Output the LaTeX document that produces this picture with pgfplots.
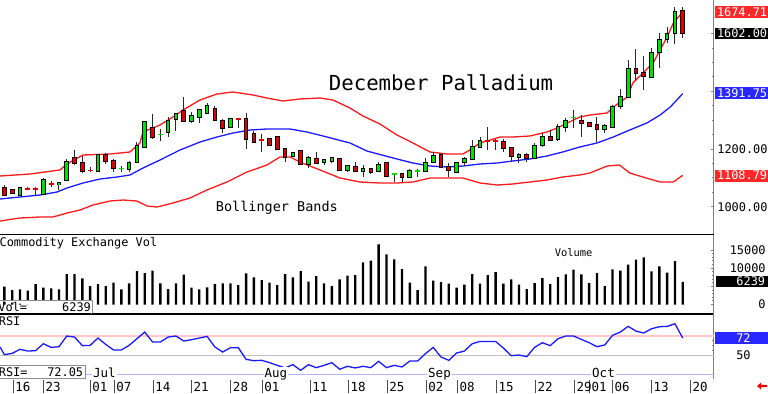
\documentclass[border=0pt]{standalone}
\usepackage{pgfplots}
\pgfplotsset{compat=1.18}
\usepackage{pgfplotstable}
\usepackage{fontspec}
\setmainfont{DejaVu Sans Mono}
\definecolor{cgreen}{RGB}{0,225,0}
\definecolor{cred}{RGB}{225,0,0}
\definecolor{bbred}{RGB}{255,25,25}
\definecolor{bbblue}{RGB}{25,25,255}
\definecolor{boxred}{RGB}{255,40,40}
\definecolor{boxblue}{RGB}{40,40,255}
\definecolor{wick}{RGB}{40,40,40}
\newcommand\sm{\fontsize{5.95pt}{6pt}\selectfont}

% candles: x (trading day) open high low close
\pgfplotstableread{
x O H L C
2 1040.6 1069.5 1037.1 1066.0
5 1045.2 1098.3 1042.9 1092.6
7 1077.5 1084.0 1057.9 1083.3
8 1092.6 1165.4 1090.3 1156.1
12 1123.8 1181.5 1121.4 1178.1
16 1129.5 1157.3 1120.3 1152.7
17 1156.1 1224.3 1150.3 1210.4
18 1208.1 1297.1 1205.8 1293.6
21 1260.1 1312.1 1242.8 1297.1
22 1302.8 1325.9 1262.4 1321.3
24 1297.1 1327.1 1289.0 1315.5
25 1312.1 1338.6 1289.0 1335.2
26 1325.9 1360.6 1320.2 1349.0
29 1277.4 1308.6 1274.0 1302.8
37 1175.8 1190.8 1171.1 1187.3
39 1148.0 1175.8 1135.3 1170.0
41 1153.8 1164.2 1145.7 1160.7
42 1157.3 1173.4 1152.7 1170.0
44 1127.2 1144.6 1120.3 1141.1
46 1124.9 1143.4 1101.8 1131.9
48 1123.7 1156.1 1121.4 1144.5
52 1104.1 1129.5 1101.8 1124.9
54 1123.7 1167.6 1121.4 1150.3
55 1156.1 1190.7 1150.3 1175.7
58 1121.4 1156.1 1118.0 1152.6
59 1154.9 1171.1 1141.0 1165.3
60 1165.3 1231.2 1164.2 1208.1
61 1208.1 1240.4 1204.6 1227.7
66 1173.4 1187.3 1150.3 1179.2
68 1167.6 1219.6 1164.2 1210.4
69 1213.8 1254.3 1208.1 1240.4
71 1235.0 1285.0 1228.0 1275.0
72 1277.4 1306.3 1260.1 1298.2
77 1268.2 1286.6 1256.6 1279.7
78 1277.4 1352.5 1271.6 1346.7
79 1349.0 1406.8 1337.5 1379.1
80 1381.4 1508.4 1379.1 1477.2
83 1450.7 1548.9 1448.4 1531.6
84 1535.0 1600.9 1481.9 1577.8
85 1581.2 1624.0 1566.2 1598.6
86 1600.9 1693.3 1563.9 1676.0
}\greentab

\pgfplotstableread{
x O H L C
0 1063.7 1075.2 1037.1 1040.6
1 1057.9 1062.5 1042.9 1046.4
9 1170.0 1196.5 1144.6 1152.7
10 1152.7 1175.8 1118.0 1124.9
13 1180.4 1185.0 1148.0 1158.4
14 1159.6 1166.5 1121.4 1133.0
19 1274.0 1320.2 1235.8 1242.8
23 1331.7 1381.4 1294.7 1298.2
27 1338.6 1350.2 1298.2 1299.4
28 1298.2 1302.8 1256.6 1274.0
31 1304.0 1323.6 1198.9 1234.7
32 1250.9 1263.5 1219.7 1225.4
34 1234.7 1239.3 1211.6 1215.0
35 1241.6 1243.9 1196.5 1198.9
36 1200.0 1201.2 1155.0 1171.1
38 1194.2 1195.0 1148.0 1149.2
40 1165.4 1188.5 1146.9 1151.5
43 1165.4 1167.7 1126.1 1127.2
45 1136.5 1155.0 1119.1 1123.8
47 1131.9 1135.3 1113.4 1121.4
49 1152.6 1153.5 1105.2 1106.4
51 1112.2 1115.6 1086.8 1104.1
56 1178.0 1179.2 1133.0 1136.4
57 1138.7 1150.3 1101.8 1126.0
64 1225.4 1233.5 1190.7 1204.6
65 1202.3 1208.1 1156.1 1175.7
67 1179.2 1187.3 1156.1 1169.9
70 1242.7 1265.8 1228.9 1231.2
74 1298.2 1317.8 1242.7 1289.0
75 1290.1 1294.7 1277.4 1280.9
76 1283.2 1312.0 1225.4 1268.2
81 1477.2 1546.6 1439.1 1462.2
82 1464.5 1522.3 1404.5 1453.0
87 1678.3 1693.3 1583.5 1602.0
}\redtab

\pgfplotstableread{
x O H L C
15 1131.9 1141.1 1121.4 1133.0
20 1249.7 1268.2 1228.9 1250.9
50 1112.2 1115.6 1086.8 1113.3
53 1123.7 1129.5 1104.1 1124.9
73 1309.0 1335.2 1271.6 1310.0
}\greendoji

\pgfplotstableread{
x O H L C
3 1062.5 1069.5 1057.9 1061.4
4 1061.4 1069.5 1040.6 1060.2
6 1078.7 1090.3 1069.5 1077.5
11 1126.1 1136.5 1119.1 1124.9
30 1305.1 1306.3 1274.0 1302.8
33 1233.5 1250.9 1190.8 1231.2
62 1228.9 1275.1 1196.5 1226.5
63 1228.9 1233.5 1196.5 1226.5
}\reddoji

\pgfplotstableread{
x y
-0.56 1106.4
3.28 1113.3
7.13 1127.2
8.03 1148.0
10.08 1179.2
13.54 1182.6
16.11 1189.6
17.39 1220.8
17.78 1258.9
19.96 1283.2
21.62 1310.9
22.90 1335.1
25.09 1369.8
27.27 1390.6
29.32 1397.5
31.88 1387.1
33.68 1376.7
35.73 1366.3
37.91 1373.3
40.48 1376.7
42.14 1369.8
44.32 1342.1
46.00 1314.3
48.17 1286.6
50.35 1248.5
52.40 1220.8
54.60 1189.6
56.80 1182.6
58.80 1182.6
59.70 1196.5
61.00 1220.8
62.30 1231.2
63.60 1241.6
65.20 1241.6
67.40 1245.0
69.60 1258.9
70.90 1272.8
72.20 1290.1
73.80 1310.9
75.10 1317.8
77.30 1324.8
78.10 1345.5
79.90 1380.2
80.60 1428.7
81.90 1463.4
83.20 1498.0
84.10 1543.1
85.00 1588.2
85.80 1636.7
87.00 1674.71
}\bbup

\pgfplotstableread{
x y
-0.56 1026.7
2.00 1033.6
4.57 1040.5
6.75 1050.9
8.03 1064.8
10.08 1082.1
12.26 1096.0
14.44 1102.9
16.11 1109.9
17.78 1134.1
19.96 1161.8
22.52 1196.5
25.09 1224.2
27.27 1241.6
29.32 1255.4
31.50 1265.8
33.68 1269.3
36.63 1269.3
38.81 1258.9
41.37 1241.6
44.32 1220.8
46.50 1193.0
48.17 1180.9
50.35 1165.3
52.40 1151.4
54.60 1141.0
56.80 1137.6
58.80 1141.0
61.00 1148.0
63.20 1151.4
65.20 1158.4
67.40 1165.3
69.60 1175.7
71.60 1189.6
73.80 1206.9
76.00 1220.8
78.10 1241.6
80.20 1265.8
82.40 1290.1
84.10 1317.8
85.40 1345.5
87.00 1391.75
}\bbmid

\pgfplotstableread{
x y
-0.56 950.4
2.00 960.8
4.57 964.3
6.23 964.3
8.03 978.1
9.70 988.5
11.36 1005.9
13.54 1019.7
15.21 1023.2
17.00 1019.7
18.29 1002.4
19.57 998.9
21.62 1012.8
23.80 1030.1
25.98 1057.9
28.55 1085.6
31.11 1120.2
33.68 1144.5
35.35 1172.3
36.63 1172.3
37.91 1154.9
40.48 1127.2
43.04 1099.5
45.61 1085.6
48.17 1082.1
50.35 1082.1
52.40 1085.6
54.60 1099.5
56.80 1099.5
58.80 1099.5
61.00 1082.1
63.20 1075.2
65.20 1078.7
67.40 1085.6
69.60 1092.5
71.60 1102.9
73.80 1109.9
75.10 1116.8
77.30 1141.0
78.90 1144.5
80.20 1116.8
81.90 1102.9
84.10 1085.6
85.80 1085.6
87.00 1108.79
}\bblow

\pgfplotstableread{
x v
0 4899
1 3983
2 4166
3 3800
4 5631
5 4624
6 4441
7 4166
8 8378
9 8378
10 7188
11 5082
12 5631
13 5082
14 5998
15 4166
16 5815
17 9202
18 8653
19 9294
20 5815
21 4258
22 5815
23 8195
24 4624
25 4166
26 4716
27 5631
28 5815
29 5815
30 5357
31 8562
32 7463
33 6730
34 5998
35 5357
36 8378
37 7463
38 9202
39 6272
40 7829
41 5815
42 5082
43 6913
44 7921
45 8104
46 11583
47 12041
48 16528
49 13781
50 12407
51 9752
52 5998
53 3983
54 10484
55 6547
56 6181
57 5723
58 4624
59 5448
60 8378
61 5723
62 8104
63 8928
64 5723
65 6913
66 5448
67 4258
68 5906
69 7280
70 5631
71 7554
72 8287
73 9569
74 8287
75 5906
76 8653
77 5082
78 9660
79 9294
80 10942
81 12316
82 12956
83 9111
84 10484
85 8745
86 11950
87 6239
}\voltab

\pgfplotstableread{
x r
-0.56 58.6
0 50.7
1 52.0
2 56.2
3 54.4
4 54.8
5 62.0
6 58.2
7 58.9
8 70.0
9 68.9
10 60.0
11 60.3
12 67.9
13 61.3
14 55.5
15 55.5
16 60.3
17 67.2
18 74.1
19 63.8
20 63.8
21 68.9
22 70.0
23 64.8
24 66.2
25 67.9
26 69.6
27 58.6
28 53.4
29 57.9
30 57.9
31 45.8
32 44.4
33 44.8
34 42.4
35 39.6
36 36.9
37 40.3
38 34.5
39 40.3
40 37.2
41 39.6
42 42.4
43 35.5
44 38.6
45 36.9
46 38.6
47 37.2
48 43.8
49 37.2
50 39.6
51 37.9
52 44.1
53 44.1
54 51.7
55 58.2
56 48.2
57 44.8
58 52.4
59 54.4
60 62.0
61 64.4
62 64.4
63 64.4
64 57.5
65 49.6
66 50.3
67 48.6
68 58.2
69 63.1
70 60.0
71 67.2
72 70.0
73 70.0
74 66.5
75 63.1
76 58.9
77 60.7
78 70.7
79 74.1
80 80.0
81 75.1
82 73.1
83 77.5
84 79.6
85 80.0
86 82.7
87 67.9
}\rsitab

\pgfplotsset{
  panel/.style={scale only axis, width=357pt, anchor=north west,
    xmin=-0.564, xmax=91.01, xtick=\empty,
    axis y line*=right,
    y axis line style={draw=gray, line width=0.5pt},
    ytick style={draw=gray, line width=0.4pt},
    tick align=inside, major tick length=1.5pt, minor tick length=1pt,
    yticklabel style={font=\sm, inner sep=0pt},
    scaled y ticks=false,
  },
  wickstyle/.style={draw=none, mark=none, forget plot,
    error bars/.cd, y dir=both, y explicit, error mark=none,
    error bar style={draw=wick, line width=0.5pt}},
  bodystyle/.style={draw=none, mark=none, forget plot,
    error bars/.cd, y dir=both, y explicit, error mark=none,
    error bar style={draw=#1, line width=2.35pt}},
  fillstyle/.style={draw=none, mark=none, forget plot,
    error bars/.cd, y dir=both, y explicit, error mark=none,
    error bar style={draw=#1, line width=1.35pt}},
}

\begin{document}
\begin{tikzpicture}
\useasboundingbox (0,0) rectangle (384pt,-196.5pt);

% ---------- price panel ----------
\begin{axis}[panel, at={(0,0)}, height=117.25pt,
  ymin=903.6, ymax=1716.4,
  axis x line*=bottom, x axis line style={draw=black, line width=0.8pt},
  ytick={1000,1200,1400,1600},
  yticklabels={1000.00,1200.00,,},
  minor y tick num=3,
  yticklabel style={anchor=west, xshift=1.5pt},
]
\addplot[bbred, line width=0.65pt] table[x=x,y=y] {\bbup};
\addplot[bbblue, line width=0.65pt] table[x=x,y=y] {\bbmid};
\addplot[bbred, line width=0.65pt] table[x=x,y=y] {\bblow};
% wicks
\addplot[wickstyle] table[x=x, y expr={(\thisrow{H}+\thisrow{L})/2}, y error expr={(\thisrow{H}-\thisrow{L})/2}] {\greentab};
\addplot[wickstyle] table[x=x, y expr={(\thisrow{H}+\thisrow{L})/2}, y error expr={(\thisrow{H}-\thisrow{L})/2}] {\redtab};
\addplot[wickstyle] table[x=x, y expr={(\thisrow{H}+\thisrow{L})/2}, y error expr={(\thisrow{H}-\thisrow{L})/2}] {\greendoji};
\addplot[wickstyle] table[x=x, y expr={(\thisrow{H}+\thisrow{L})/2}, y error expr={(\thisrow{H}-\thisrow{L})/2}] {\reddoji};
% bodies: black outline then colour
\addplot[bodystyle=black] table[x=x, y expr={(\thisrow{O}+\thisrow{C})/2}, y error expr={abs(\thisrow{C}-\thisrow{O})/2+3.4}] {\greentab};
\addplot[bodystyle=black] table[x=x, y expr={(\thisrow{O}+\thisrow{C})/2}, y error expr={abs(\thisrow{C}-\thisrow{O})/2+3.4}] {\redtab};
\addplot[fillstyle=cgreen] table[x=x, y expr={(\thisrow{O}+\thisrow{C})/2}, y error expr={abs(\thisrow{C}-\thisrow{O})/2}] {\greentab};
\addplot[fillstyle=cred] table[x=x, y expr={(\thisrow{O}+\thisrow{C})/2}, y error expr={abs(\thisrow{C}-\thisrow{O})/2}] {\redtab};
% doji bodies
\addplot[bodystyle=cgreen] table[x=x, y expr={(\thisrow{O}+\thisrow{C})/2}, y error expr={3}] {\greendoji};
\addplot[bodystyle=cred] table[x=x, y expr={(\thisrow{O}+\thisrow{C})/2}, y error expr={3}] {\reddoji};
\end{axis}

% ---------- volume panel ----------
\begin{axis}[panel, at={(0,-117.25pt)}, height=39.75pt,
  ymin=-2610, ymax=19229,
  axis x line=box, x axis line style={draw=black, line width=0.8pt},
  ytick={0,5000,10000,15000},
  yticklabels={0,,10000,15000},
  minor y tick num=4,
  yticklabel style={anchor=east, xshift=26pt},
]
\addplot[ybar, bar width=0.3, bar shift=0pt, fill=black, draw=none] table[x=x,y=v] {\voltab};
\end{axis}

% ---------- RSI panel ----------
\begin{axis}[panel, at={(0,-157pt)}, height=32.5pt,
  ymin=25.44, ymax=92.8,
  axis x line=none,
  ytick={50,70}, yticklabels={50,},
  minor y tick num=3,
  yticklabel style={anchor=east, xshift=18.5pt},
]
\addplot[red!22, line width=0.6pt] coordinates {(-0.564,70) (91.01,70)};
\addplot[black!25, line width=0.6pt] coordinates {(-0.564,50) (91.01,50)};
\addplot[blue!30, line width=0.6pt] coordinates {(-0.564,30) (91.01,30)};
\addplot[bbblue, line width=0.65pt] table[x=x,y=r] {\rsitab};
\end{axis}

% ---------- date row ----------
\begin{axis}[scale only axis, width=357pt, height=7pt, anchor=north west,
  at={(0,-189.5pt)},
  xmin=-0.564, xmax=91.01, ymin=0, ymax=1,
  hide y axis, axis x line*=bottom, x axis line style={draw=none},
  xtick={1.14,5.04,11.02,14.09,19.10,24.02,29.06,33.08,39.23,44.16,49.11,54.11,58.14,63.14,68.14,73.14,75.07,78.02,83.02,88.02},
  xticklabels={16,23,01,07,14,21,28,01,11,18,25,02,08,15,22,29,01,06,13,20},
  tick align=inside, major tick length=6.5pt,
  xtick style={draw=black!70, line width=0.5pt},
  xticklabel style={anchor=base west, inner sep=0pt, xshift=0.8pt, yshift=1pt,
    font=\fontsize{6.25pt}{6.5pt}\selectfont},
]
\end{axis}

% ---------- annotations (pixel units) ----------
\begin{scope}[x=0.5pt, y=-0.5pt]
\node[anchor=base west, inner sep=0pt, font=\fontsize{10.35pt}{12pt}\selectfont] at (328.5,90.3) {December Palladium};
\node[anchor=base west, inner sep=0pt, font=\fontsize{6.75pt}{8pt}\selectfont] at (215.5,211.7) {Bollinger Bands};
\node[anchor=base west, inner sep=0pt, font=\sm] at (-0.8,246) {Commodity Exchange Vol};
\node[anchor=base west, inner sep=0pt, font=\fontsize{5.2pt}{6pt}\selectfont] at (554.5,256.7) {Volume};
% Vol box
\draw[black!45, fill=white, line width=0.5pt] (-2,300.7) -- (92.3,300.7) -- (92.3,313.4);
\node[anchor=base west, inner sep=0pt, font=\sm] at (-2,311.7) {Vol=};
\node[anchor=base east, inner sep=0pt, font=\sm] at (91.3,311.7) {6239};
% RSI labels
\node[anchor=base west, inner sep=0pt, font=\sm] at (-1.5,325.3) {RSI};
\draw[black!45, fill=white, line width=0.5pt] (-2,365.3) rectangle (85,378.5);
\node[anchor=base west, inner sep=0pt, font=\sm] at (-1.5,376) {RSI=};
\node[anchor=base east, inner sep=0pt, font=\sm] at (83.5,376) {72.05};
% month labels
\foreach \mx/\mt in {92/Jul, 263.5/Aug, 427/Sep, 591/Oct}
  \node[anchor=base west, inner sep=0.4pt, fill=white, font=\fontsize{6.25pt}{6.5pt}\selectfont] at (\mx,377) {\mt};
% right value boxes
\fill[boxred] (715,6) rectangle (768,18.4);
\node[anchor=west, inner sep=0pt, text=white, font=\sm] at (716.6,12.2) {1674.71};
\fill[black] (715,27.5) rectangle (768,39.3);
\node[anchor=west, inner sep=0pt, text=white, font=\sm] at (716.6,33.4) {1602.00};
\fill[boxblue] (715,87.3) rectangle (768,99.3);
\node[anchor=west, inner sep=0pt, text=white, font=\sm] at (716.6,93.3) {1391.75};
\fill[boxred] (715,169.5) rectangle (768,181.7);
\node[anchor=west, inner sep=0pt, text=white, font=\sm] at (716.6,175.6) {1108.79};
\fill[black] (715.5,275.7) rectangle (768,287.3);
\node[anchor=east, inner sep=0pt, text=white, font=\sm] at (765.5,281.5) {6239};
\fill[boxblue] (714.5,332) rectangle (768,343.7);
\node[anchor=east, inner sep=0pt, text=white, font=\sm] at (751,337.8) {72};
% small red arrow
\fill[red] (757,386) -- (761,382.5) -- (761,384.8) -- (767,384.8) -- (767,387.2) -- (761,387.2) -- (761,389.5) -- cycle;
\end{scope}
\end{tikzpicture}
\end{document}
